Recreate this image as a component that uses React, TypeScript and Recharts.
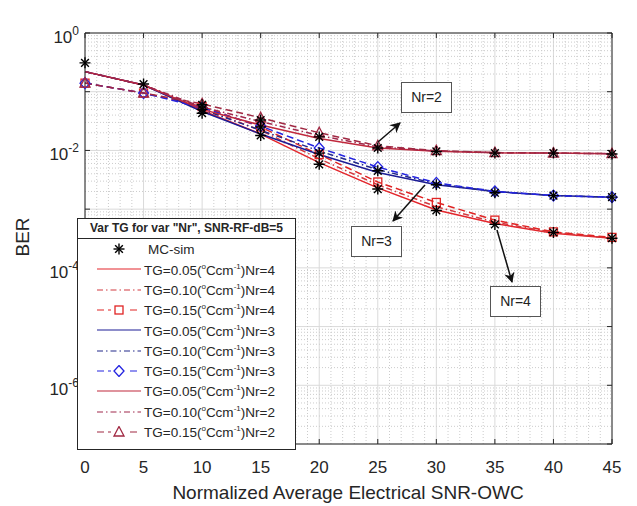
import React from "react";
import {
  ComposedChart,
  Line,
  Scatter,
  XAxis,
  YAxis,
  CartesianGrid,
  ReferenceLine,
} from "recharts";

// SNR-OWC (dB)
const snr = [0, 5, 10, 15, 20, 25, 30, 35, 40, 45];

// Nr = 4
const nr4Tg05 = [0.22, 0.13, 0.048, 0.019, 0.0062, 0.0023, 0.00097, 0.00057, 0.00039, 0.00032];
const nr4Tg10 = [0.22, 0.13, 0.052, 0.022, 0.0072, 0.0026, 0.0011, 0.0006, 0.0004, 0.00032];
const nr4Tg15 = [0.14, 0.095, 0.056, 0.025, 0.0085, 0.0029, 0.0013, 0.00065, 0.00041, 0.00033];
// Nr = 3
const nr3Tg05 = [0.22, 0.13, 0.046, 0.019, 0.0085, 0.0042, 0.0026, 0.002, 0.0017, 0.0016];
const nr3Tg10 = [0.22, 0.13, 0.05, 0.022, 0.0098, 0.0047, 0.0027, 0.002, 0.0017, 0.0016];
const nr3Tg15 = [0.14, 0.095, 0.053, 0.026, 0.011, 0.0052, 0.0028, 0.002, 0.0017, 0.0016];
// Nr = 2
const nr2Tg05 = [0.22, 0.13, 0.05, 0.027, 0.016, 0.011, 0.0097, 0.0091, 0.009, 0.0088];
const nr2Tg10 = [0.22, 0.13, 0.055, 0.031, 0.018, 0.0115, 0.0098, 0.0092, 0.009, 0.0088];
const nr2Tg15 = [0.14, 0.095, 0.062, 0.036, 0.02, 0.012, 0.0099, 0.0092, 0.009, 0.0088];

// MC-sim points
const mcX = [0, 5, 10, 10, 10, 15, 15, 15, 20, 20, 20, 25, 25, 25, 30, 30, 30, 35, 35, 35, 40, 40, 40, 45, 45, 45];
const mcY = [
  0.31, 0.135, 0.043, 0.05, 0.06, 0.018, 0.025, 0.033, 0.0058, 0.009, 0.017, 0.0022, 0.0045, 0.011,
  0.00095, 0.0026, 0.0096, 0.00055, 0.0019, 0.009, 0.0004, 0.0017, 0.009, 0.00032, 0.0016, 0.0087,
];

const xTicks = [0, 5, 10, 15, 20, 25, 30, 35, 40, 45];
const yTicks = [1, 1e-1, 1e-2, 1e-3, 1e-4, 1e-5, 1e-6, 1e-7];

const AX = "#262626";
const FONT = "'Liberation Sans', Arial, sans-serif";

type Marker = "none" | "square" | "diamond" | "triangle";
const SERIES: { key: string; values: number[]; color: string; dash?: string; marker: Marker; nr: number; tg: string }[] = [
  { key: "n4a", values: nr4Tg05, color: "#e4262c", marker: "none", nr: 4, tg: "0.05" },
  { key: "n4b", values: nr4Tg10, color: "#d23a40", dash: "6 3 1.5 3", marker: "none", nr: 4, tg: "0.10" },
  { key: "n4c", values: nr4Tg15, color: "#e02424", dash: "7 4", marker: "square", nr: 4, tg: "0.15" },
  { key: "n3a", values: nr3Tg05, color: "#1c1c96", marker: "none", nr: 3, tg: "0.05" },
  { key: "n3b", values: nr3Tg10, color: "#22288a", dash: "6 3 1.5 3", marker: "none", nr: 3, tg: "0.10" },
  { key: "n3c", values: nr3Tg15, color: "#2424e0", dash: "7 4", marker: "diamond", nr: 3, tg: "0.15" },
  { key: "n2a", values: nr2Tg05, color: "#c0283c", marker: "none", nr: 2, tg: "0.05" },
  { key: "n2b", values: nr2Tg10, color: "#a0284c", dash: "6 3 1.5 3", marker: "none", nr: 2, tg: "0.10" },
  { key: "n2c", values: nr2Tg15, color: "#a02842", dash: "7 4", marker: "triangle", nr: 2, tg: "0.15" },
];

const rows = snr.map((x, i) => {
  const r: Record<string, number> = { x };
  SERIES.forEach((s) => (r[s.key] = s.values[i]));
  return r;
});
const mcData = mcX.map((x, i) => ({ x, y: mcY[i] }));

const minorX = Array.from({ length: 46 }, (_, i) => i).filter((v) => v % 5 !== 0);
const minorY: number[] = [];
for (let e = -7; e < 0; e++) for (let k = 2; k <= 9; k++) minorY.push(k * Math.pow(10, e));

function markerShape(m: Marker, cx: number, cy: number, color: string, key?: any) {
  if (m === "square") return <rect key={key} x={cx - 4} y={cy - 4} width={8} height={8} fill="none" stroke={color} strokeWidth={1.3} />;
  if (m === "diamond")
    return <path key={key} d={`M${cx},${cy - 5.5}L${cx + 5},${cy}L${cx},${cy + 5.5}L${cx - 5},${cy}Z`} fill="none" stroke={color} strokeWidth={1.3} />;
  if (m === "triangle")
    return <path key={key} d={`M${cx},${cy - 5.5}L${cx + 5},${cy + 4}L${cx - 5},${cy + 4}Z`} fill="none" stroke={color} strokeWidth={1.3} />;
  return null;
}

const Star = ({ cx, cy, s = 5.5 }: any) => (
  <g stroke="#000" strokeWidth={1.4}>
    <line x1={cx - s} y1={cy} x2={cx + s} y2={cy} />
    <line x1={cx} y1={cy - s} x2={cx} y2={cy + s} />
    <line x1={cx - s * 0.7} y1={cy - s * 0.7} x2={cx + s * 0.7} y2={cy + s * 0.7} />
    <line x1={cx - s * 0.7} y1={cy + s * 0.7} x2={cx + s * 0.7} y2={cy - s * 0.7} />
  </g>
);

const EmptyTick = () => null;

const YTick = (props: any) => {
  const v = props.payload.value as number;
  const e = Math.round(Math.log10(v));
  if (e % 2 !== 0) return null;
  return (
    <text x={79} y={props.y + 10} textAnchor="end" fill={AX} fontSize={17} fontFamily={FONT}>
      10
      <tspan dy={-8} fontSize={12}>
        {e === 0 ? "0" : String(e)}
      </tspan>
    </text>
  );
};

const XTick = (props: any) => (
  <text x={props.x} y={473} textAnchor="middle" fill={AX} fontSize={17} fontFamily={FONT}>
    {props.payload.value}
  </text>
);

const Sample = ({ s }: { s: (typeof SERIES)[number] }) => (
  <svg width={46} height={12} style={{ display: "block" }}>
    <line x1={1} y1={6} x2={45} y2={6} stroke={s.color} strokeWidth={1.2} strokeDasharray={s.dash} />
    {s.marker !== "none" && (
      <g>
        <rect x={15} y={0} width={16} height={12} fill="#fff" />
        {markerShape(s.marker, 23, 6, s.color)}
      </g>
    )}
  </svg>
);

const NoteBox = ({ left, top, text }: { left: number; top: number; text: string }) => (
  <div
    style={{
      position: "absolute",
      left,
      top,
      width: 51,
      height: 31,
      border: "1.5px solid #555",
      background: "#fff",
      boxSizing: "border-box",
      fontFamily: FONT,
      fontSize: 14,
      color: "#222",
      lineHeight: "28px",
      textAlign: "center",
    }}
  >
    {text}
  </div>
);

export default function App() {
  return (
    <div style={{ position: "absolute", left: 0, top: 0, width: 637, height: 506, background: "#fff" }}>
      <ComposedChart width={637} height={506} data={rows} margin={{ top: 32, right: 24, bottom: 32, left: 25 }}>
        <CartesianGrid stroke="#dadada" strokeWidth={1} />
        {minorX.map((v) => (
          <ReferenceLine key={`mx${v}`} x={v} stroke="#cccccc" strokeDasharray="1 2" strokeWidth={1} />
        ))}
        {minorY.map((v) => (
          <ReferenceLine key={`my${v}`} y={v} stroke="#cccccc" strokeDasharray="1 2" strokeWidth={1} />
        ))}
        <XAxis
          dataKey="x"
          type="number"
          domain={[0, 45]}
          ticks={xTicks}
          height={30}
          tick={XTick}
          tickSize={-5}
          stroke={AX}
          tickLine={{ stroke: AX }}
        />
        <XAxis
          xAxisId="top"
          orientation="top"
          dataKey="x"
          type="number"
          domain={[0, 45]}
          ticks={xTicks}
          height={1}
          tick={EmptyTick}
          tickSize={-5}
          stroke={AX}
        />
        <YAxis
          type="number"
          scale="log"
          domain={[1e-7, 1]}
          allowDataOverflow
          ticks={yTicks}
          width={60}
          tick={YTick}
          tickSize={-5}
          stroke={AX}
        />
        <YAxis
          yAxisId="r"
          orientation="right"
          type="number"
          scale="log"
          domain={[1e-7, 1]}
          allowDataOverflow
          ticks={yTicks}
          width={1}
          tick={EmptyTick}
          tickSize={-5}
          stroke={AX}
        />
        {SERIES.map((s) => (
          <Line
            key={s.key}
            dataKey={s.key}
            stroke={s.color}
            strokeWidth={1.5}
            strokeDasharray={s.dash}
            isAnimationActive={false}
            dot={
              s.marker === "none"
                ? false
                : (p: any) => markerShape(s.marker, p.cx, p.cy, s.color, `${s.key}-${p.index}`) || <g key={`${s.key}-${p.index}`} />
            }
            activeDot={false}
          />
        ))}
        <Scatter data={mcData} dataKey="y" isAnimationActive={false} shape={(p: any) => <Star cx={p.cx} cy={p.cy} />} />
      </ComposedChart>

      {/* axis labels */}
      <div
        style={{
          position: "absolute",
          left: 23,
          top: 237,
          transform: "translate(-50%,-50%) rotate(-90deg)",
          fontFamily: FONT,
          fontSize: 19,
          color: AX,
          whiteSpace: "nowrap",
        }}
      >
        BER
      </div>
      <div
        style={{
          position: "absolute",
          left: 348,
          top: 493,
          transform: "translate(-50%,-50%)",
          fontFamily: FONT,
          fontSize: 19,
          color: AX,
          whiteSpace: "nowrap",
        }}
      >
        Normalized Average Electrical SNR-OWC
      </div>

      {/* annotations */}
      <svg width={637} height={506} style={{ position: "absolute", left: 0, top: 0, pointerEvents: "none" }}>
        <defs>
          <marker id="ah" viewBox="0 0 10 10" refX={9} refY={5} markerWidth={7} markerHeight={7} orient="auto">
            <path d="M0,0L10,5L0,10L3,5Z" fill="#111" />
          </marker>
        </defs>
        <line x1={378} y1={142} x2={400} y2={123} stroke="#111" strokeWidth={1.5} markerEnd="url(#ah)" />
        <line x1={425} y1={185} x2={393} y2={221} stroke="#111" strokeWidth={1.5} markerEnd="url(#ah)" />
        <line x1={497} y1={230} x2={512} y2={282} stroke="#111" strokeWidth={1.5} markerEnd="url(#ah)" />
      </svg>
      <NoteBox left={401} top={82} text="Nr=2" />
      <NoteBox left={351} top={226} text="Nr=3" />
      <NoteBox left={490} top={286} text="Nr=4" />

      {/* legend */}
      <div
        style={{
          position: "absolute",
          left: 77,
          top: 218,
          width: 219,
          height: 232,
          boxSizing: "border-box",
          border: `1px solid ${AX}`,
          background: "#fff",
          fontFamily: FONT,
          color: AX,
        }}
      >
        <div
          style={{
            height: 19,
            borderBottom: `1px solid ${AX}`,
            fontWeight: 700,
            fontSize: 12,
            textAlign: "center",
            lineHeight: "19px",
            whiteSpace: "nowrap",
          }}
        >
          Var TG for var "Nr", SNR-RF-dB=5
        </div>
        <div style={{ height: 20.3, display: "flex", alignItems: "center", fontSize: 13.5 }}>
          <svg width={46} height={14} style={{ marginLeft: 18 }}>
            <Star cx={23} cy={7} />
          </svg>
          <span style={{ marginLeft: 6 }}>MC-sim</span>
        </div>
        {SERIES.map((s) => (
          <div key={s.key} style={{ height: 20.3, display: "flex", alignItems: "center", fontSize: 13.5, whiteSpace: "nowrap" }}>
            <div style={{ marginLeft: 18 }}>
              <Sample s={s} />
            </div>
            <span style={{ marginLeft: 2 }}>
              TG={s.tg}(<sup style={{ fontSize: 8 }}>o</sup>Ccm<sup style={{ fontSize: 8 }}>-1</sup>)Nr={s.nr}
            </span>
          </div>
        ))}
      </div>
    </div>
  );
}
